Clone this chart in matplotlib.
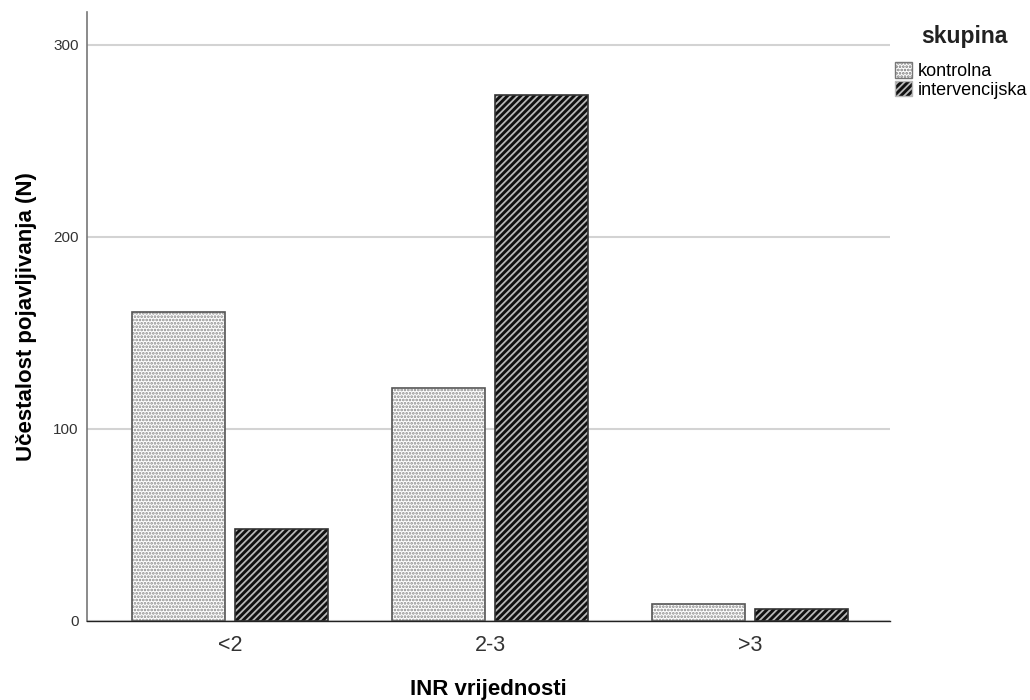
import numpy as np
import matplotlib
matplotlib.use("Agg")
import matplotlib.pyplot as plt
from matplotlib.patches import Patch

plt.rcParams["font.family"] = ["Liberation Sans", "DejaVu Sans"]

categories = ["<2", "2-3", ">3"]
groups = ["kontrolna", "intervencijska"]
kontrolna = [161, 121, 9]
intervencijska = [48, 274, 6]

fig = plt.figure(figsize=(10.3, 7), dpi=100)
ax = fig.add_axes([0.0845, 0.113, 0.7795, 0.870])

x = np.arange(len(categories))
w = 0.358
off = 0.198

plt.rcParams["hatch.linewidth"] = 1.3
# kontrolna: dotted fill
ax.bar(x - off, kontrolna, w, color="white", edgecolor="#8a8a8a", hatch=".....",
       linewidth=0, zorder=2)
ax.bar(x - off, kontrolna, w, color="none", edgecolor="#555555", linewidth=1.2, zorder=3)

# intervencijska: dark with light diagonal stripes
ax.bar(x + off, intervencijska, w, color="#111111", edgecolor="#b8b8b8", hatch="/////",
       linewidth=0, zorder=2)
ax.bar(x + off, intervencijska, w, color="none", edgecolor="#333333", linewidth=1.2, zorder=3)

ax.set_xlim(-0.55, 2.538)
ax.set_ylim(0, 317)
ax.set_yticks([0, 100, 200, 300])
ax.set_xticks(x)
ax.set_xticklabels(categories)
ax.yaxis.grid(True, color="#d3d3d3", linewidth=1.5, zorder=0)
ax.set_axisbelow(True)
ax.tick_params(axis="y", length=0, labelsize=11, colors="#333333", pad=6)
ax.tick_params(axis="x", length=0, labelsize=15.5, colors="#333333", pad=10)

for s in ["top", "right"]:
    ax.spines[s].set_visible(False)
ax.spines["left"].set_color("#777777")
ax.spines["left"].set_linewidth(1.2)
ax.spines["bottom"].set_color("#222222")
ax.spines["bottom"].set_linewidth(1.0)

ax.set_xlabel("INR vrijednosti", fontsize=16, fontweight="bold", labelpad=17)
ax.set_ylabel("Učestalost pojavljivanja (N)", fontsize=16, fontweight="bold", labelpad=12)

handles = [
    Patch(facecolor="white", edgecolor="#777777", hatch="....."),
    Patch(facecolor="#111111", edgecolor="#b8b8b8", hatch="/////"),
]
fig.text(1008 / 1030, 1 - 37 / 700, "skupina", ha="right", va="center",
         fontsize=16.5, fontweight="bold", color="#222222")
fig.legend(handles, groups, loc="upper left", bbox_to_anchor=(895 / 1030, 1 - 62 / 700),
           frameon=False, fontsize=13, handlelength=0.95, handleheight=0.95,
           handletextpad=0.3, labelspacing=0.05, borderaxespad=0, borderpad=0)

fig.savefig("out.png", dpi=100)
